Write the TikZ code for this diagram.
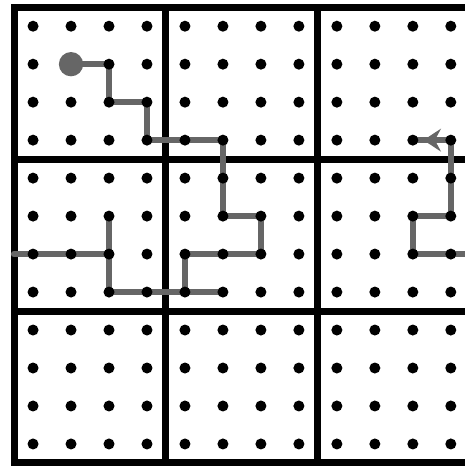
\documentclass[tikz,border=0pt]{standalone}
\usepackage{tikz}
\usetikzlibrary{arrows.meta, decorations.markings}

\begin{document}
\begin{tikzpicture}[
    frame/.style={line width=5.2pt, black},
    walk/.style={line width=4.8pt, black!60, line cap=round, line join=round},
    dot/.style={circle, fill=black, inner sep=0pt, minimum size=2.9mm},
    start/.style={circle, fill=black!60, inner sep=0pt, minimum size=6.4mm},
    midarrow/.style={postaction={decorate}, decoration={markings,
        mark=at position 0.72 with {\arrow{Stealth[length=4.6mm, width=6mm, inset=1.6mm]}}}}
]

\useasboundingbox (-0.37,-0.08) rectangle (11.87,12.19);
\clip (-0.37,-0.08) rectangle (11.87,12.19);

% ── Dot positions (row from top, column from left) ──
\foreach \r in {0,...,11}
  \foreach \c in {0,...,11}
    \coordinate (p\r-\c) at (\c+0.5, 11.5-\r);
\coordinate (eL) at (0, 5.5);
\coordinate (eR) at (12, 5.5);

% ── 3 x 3 board ──
\draw[frame] (0,0) rectangle (12,12);
\foreach \k in {4,8} {
  \draw[frame] (\k,0) -- (\k,12);
  \draw[frame] (0,\k) -- (12,\k);
}

% ── Walk ──
\draw[walk] (p1-1) -- (p1-2) -- (p2-2) -- (p2-3) -- (p3-3) -- (p3-5) -- (p5-5)
  -- (p5-6) -- (p6-6) -- (p6-4) -- (p7-4) -- (p7-2) -- (p5-2);
\draw[walk] (p7-4) -- (p7-5);
\draw[walk] (p6-2) -- (eL);
\draw[walk] (eR) -- (p6-10) -- (p5-10) -- (p5-11) -- (p3-11);
\draw[walk, midarrow] (p3-11) -- (p3-10);

% ── Dots ──
\foreach \r in {0,...,11}
  \foreach \c in {0,...,11}
    \node[dot] (d\r-\c) at (p\r-\c) {};

\node[start] (s) at (p1-1) {};

\end{tikzpicture}
\end{document}
